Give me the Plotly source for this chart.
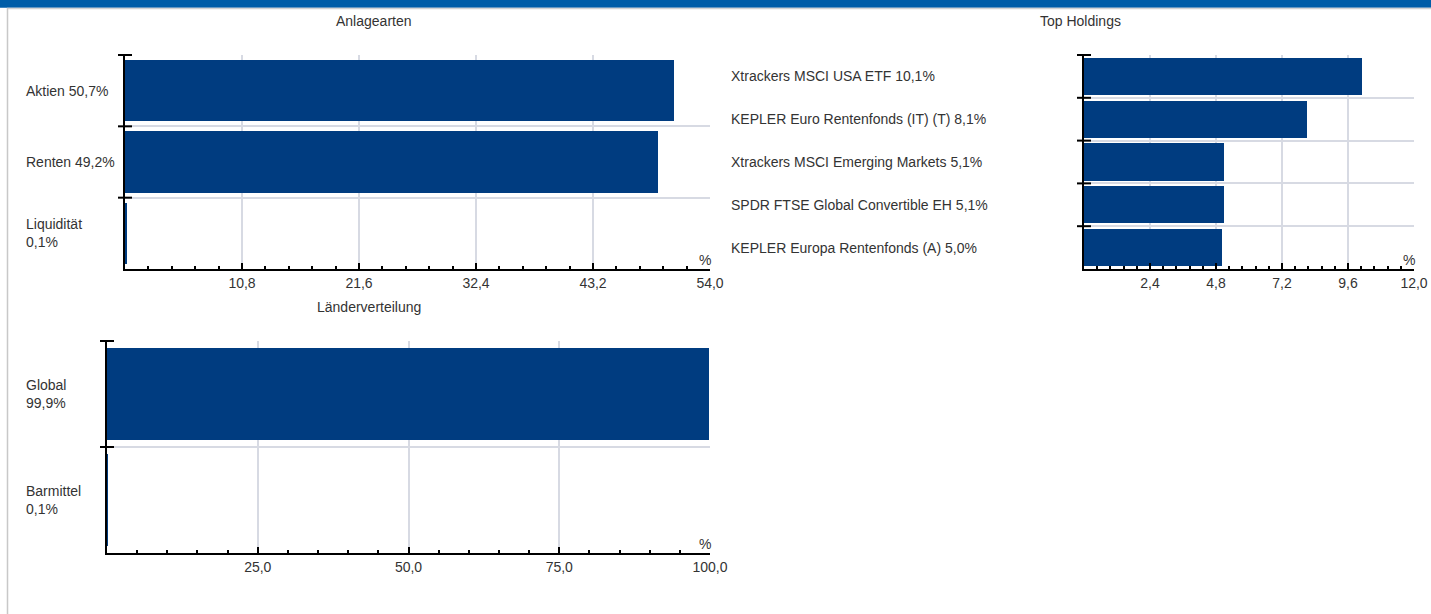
import plotly.graph_objects as go

# ---------------- data ----------------
asset_classes = ["Aktien", "Renten", "Liquidität"]
asset_values = [50.7, 49.2, 0.1]
asset_labels = ["Aktien 50,7%", "Renten 49,2%", "Liquidität<br>0,1%"]
asset_ticks = [10.8, 21.6, 32.4, 43.2, 54.0]
asset_ticktext = ["10,8", "21,6", "32,4", "43,2", "54,0"]

holdings = [
    "Xtrackers MSCI USA ETF",
    "KEPLER Euro Rentenfonds (IT) (T)",
    "Xtrackers MSCI Emerging Markets",
    "SPDR FTSE Global Convertible EH",
    "KEPLER Europa Rentenfonds (A)",
]
holding_values = [10.1, 8.1, 5.1, 5.1, 5.0]
holding_labels = [
    "Xtrackers MSCI USA ETF 10,1%",
    "KEPLER Euro Rentenfonds (IT) (T) 8,1%",
    "Xtrackers MSCI Emerging Markets 5,1%",
    "SPDR FTSE Global Convertible EH 5,1%",
    "KEPLER Europa Rentenfonds (A) 5,0%",
]
holding_ticks = [2.4, 4.8, 7.2, 9.6, 12.0]
holding_ticktext = ["2,4", "4,8", "7,2", "9,6", "12,0"]

countries = ["Global", "Barmittel"]
country_values = [99.9, 0.1]
country_labels = ["Global<br>99,9%", "Barmittel<br>0,1%"]
country_ticks = [25.0, 50.0, 75.0, 100.0]
country_ticktext = ["25,0", "50,0", "75,0", "100,0"]

titles = ["Anlagearten", "Top Holdings", "Länderverteilung"]

# ---------------- styling ----------------
W, H = 1431, 614
BAR = "#003c80"
GRID = "#d7dae3"
TXT = "#333333"
FONT = "Arial, 'Liberation Sans', Helvetica, sans-serif"
FS = 14


def px(xp):
    return xp / W


def py(yp):
    return 1 - yp / H


fig = go.Figure()

panels = [
    (asset_classes, asset_values, 0.86, [0, 54.0], asset_ticks, asset_ticktext, 2.16, (125, 710), (55, 269), 24),
    (holdings, holding_values, 0.87, [0, 12.0], holding_ticks, holding_ticktext, 0.48, (1084, 1414), (55, 269), 729),
    (countries, country_values, 0.86, [0, 100.0], country_ticks, country_ticktext, 5.0, (107, 710), (341, 553), 24),
]
label_sets = [asset_labels, holding_labels, country_labels]

annotations = []
shapes = [
    dict(type="rect", xref="paper", yref="paper", x0=0, x1=1, y0=py(7.7), y1=1,
         fillcolor="#005da8", line=dict(width=0), layer="below"),
    dict(type="line", xref="paper", yref="paper", x0=px(7), x1=1, y0=py(8.6), y1=py(8.6),
         line=dict(color="#d2d2d2", width=1.5), layer="below"),
    dict(type="line", xref="paper", yref="paper", x0=px(7.5), x1=px(7.5), y0=0, y1=py(8),
         line=dict(color="#c8c8c8", width=1.5), layer="below"),
]

for i, (cats, vals, bw, xr, tv, tt, mdt, xd, yd, lx) in enumerate(panels):
    n = i + 1
    xa = "x" if n == 1 else f"x{n}"
    ya = "y" if n == 1 else f"y{n}"
    idx = list(range(len(cats)))
    fig.add_trace(go.Bar(
        x=vals, y=idx, orientation="h", width=bw,
        marker=dict(color=BAR, line=dict(width=0)),
        xaxis=xa, yaxis=ya, hovertext=cats, hoverinfo="text+x", showlegend=False,
    ))
    ncat = len(cats)
    yrange = [ncat - 0.5, -0.5]
    bounds = [k - 0.5 for k in range(ncat)]
    xkey = "xaxis" if n == 1 else f"xaxis{n}"
    ykey = "yaxis" if n == 1 else f"yaxis{n}"
    fig.update_layout(**{
        xkey: dict(
            domain=[px(xd[0]), px(xd[1])], anchor=ya, range=xr, automargin=False,
            tickmode="array", tickvals=tv, ticktext=tt,
            ticks="inside", ticklen=6, tickwidth=2, tickcolor="black",
            showline=True, linecolor="black", linewidth=2,
            showgrid=True, gridcolor=GRID, gridwidth=2, zeroline=False,
            tickfont=dict(family=FONT, size=FS, color=TXT),
            minor=dict(ticks="inside", ticklen=3, tickwidth=2, tickcolor="black",
                       dtick=mdt, tick0=0, showgrid=False),
            fixedrange=True,
        ),
        ykey: dict(
            domain=[py(yd[1]), py(yd[0])], anchor=xa, range=yrange, automargin=False,
            tickmode="array", tickvals=bounds, showticklabels=False,
            ticks="", showline=True, linecolor="black", linewidth=2,
            showgrid=True, gridcolor=GRID, gridwidth=2, zeroline=False,
            fixedrange=True,
        ),
    })
    # crossing tick marks on the category axis at band boundaries
    for b in bounds:
        yy = 1 - (b + 0.5) / ncat
        shapes.append(dict(
            type="line", xref="paper", xsizemode="pixel", xanchor=px(xd[0]), x0=-7, x1=7,
            yref=f"{ya} domain", y0=yy, y1=yy, line=dict(color="black", width=2), layer="above",
        ))
    for k, lab in enumerate(label_sets[i]):
        annotations.append(dict(
            text=lab, x=px(lx), xref="paper", xanchor="left", align="left",
            y=k, yref=ya, yanchor="middle", showarrow=False,
            font=dict(family=FONT, size=FS, color=TXT),
        ))
    annotations.append(dict(
        text="%", x=1, xref=f"{xa} domain", xanchor="right",
        y=0, yref=f"{ya} domain", yanchor="bottom", yshift=-1, xshift=3,
        showarrow=False, font=dict(family=FONT, size=FS, color=TXT),
    ))

for t, (tx, ty) in zip(titles, [(374, 21), (1080, 21), (369, 307)]):
    annotations.append(dict(
        text=t, x=px(tx), y=py(ty), xref="paper", yref="paper",
        xanchor="center", yanchor="middle", showarrow=False,
        font=dict(family=FONT, size=FS, color=TXT),
    ))

fig.update_layout(
    width=W, height=H, autosize=False,
    margin=dict(l=0, r=0, t=0, b=0, pad=0, autoexpand=False),
    paper_bgcolor="white", plot_bgcolor="white",
    annotations=annotations, shapes=shapes,
    showlegend=False, bargap=0,
    font=dict(family=FONT, size=FS, color=TXT),
)

fig.write_html("out.html", config={"displayModeBar": False, "responsive": False},
               post_script="document.body.style.margin='0';document.documentElement.style.overflow='hidden';")
